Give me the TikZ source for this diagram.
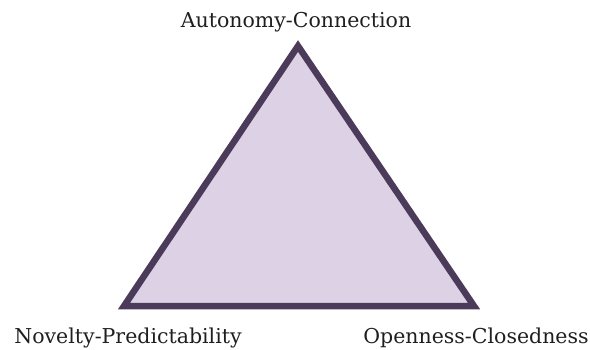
\documentclass[tikz,border=0pt]{standalone}
\usepackage{fontspec}
\setmainfont{DejaVu Serif}
\usepackage{tikz}
\usetikzlibrary{positioning}

\definecolor{triline}{HTML}{4B3A59}
\definecolor{trifill}{HTML}{DDD1E5}

\begin{document}
\begin{tikzpicture}[x=1pt, y=-1pt, label/.style={anchor=base, font=\fontsize{20.5}{24}\selectfont, text=black!88, inner sep=0pt}]
  \useasboundingbox (0,0) rectangle (590,349);
  \coordinate (top) at (298,46);
  \coordinate (left) at (124,306);
  \coordinate (right) at (474,306);
  \filldraw[draw=triline, fill=trifill, line width=6.5pt, line join=miter] (top) -- (left) -- (right) -- cycle;
  \node[label] (auto) at (296,27) {Autonomy-Connection};
  \node[label] (novel) at (128,343) {Novelty-Predictability};
  \node[label] (open) at (476,343) {Openness-Closedness};
\end{tikzpicture}
\end{document}
